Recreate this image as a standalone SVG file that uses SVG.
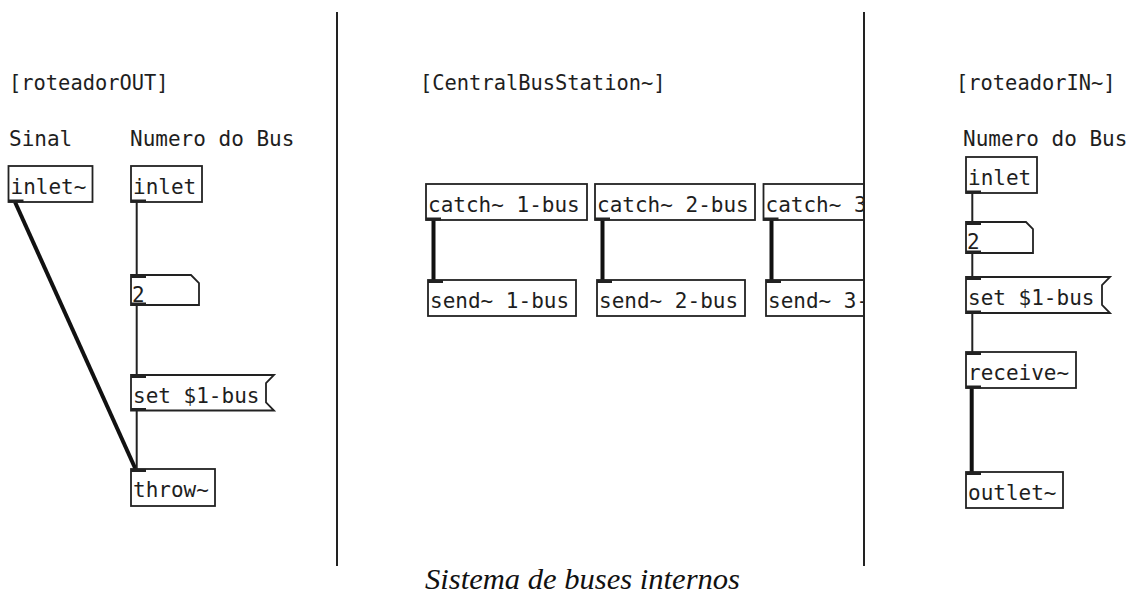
<svg xmlns="http://www.w3.org/2000/svg" width="1131" height="598" viewBox="0 0 1131 598">
  <style>
    .mono { font-family: "DejaVu Sans Mono", "Liberation Mono", monospace; font-size: 21px; fill: #1e1e1e; }
    .title { font-size: 20.4px; }
    .box { fill: #ffffff; stroke: #222222; stroke-width: 1.8; }
    .tab { fill: #222222; }
    .thin { stroke: #222222; stroke-width: 2; fill: none; }
    .sig { stroke: #111111; stroke-width: 4; fill: none; }
    .divider { stroke: #222222; stroke-width: 2; }
    .caption { font-family: "Liberation Serif", "DejaVu Serif", serif; font-style: italic; font-size: 29px; fill: #111111; }
  </style>
  <defs>
    <clipPath id="centralClip">
      <rect x="340" y="0" width="523" height="598"/>
    </clipPath>
  </defs>

  <rect x="0" y="0" width="1131" height="598" fill="#ffffff"/>

  <!-- panel dividers -->
  <g id="dividers">
    <line class="divider" x1="337" y1="12" x2="337" y2="566"/>
    <line class="divider" x1="864" y1="12" x2="864" y2="566"/>
  </g>

  <!-- patch titles and comments -->
  <g id="labels">
    <text class="mono title" x="9" y="90">[roteadorOUT]</text>
    <text class="mono" x="9" y="146">Sinal</text>
    <text class="mono" x="130" y="146">Numero do Bus</text>
    <text class="mono title" x="420" y="90">[CentralBusStation~]</text>
    <text class="mono title" x="956" y="90">[roteadorIN~]</text>
    <text class="mono" x="963" y="146">Numero do Bus</text>
  </g>

  <!-- connections -->
  <g id="connectors">
    <!-- roteadorOUT -->
    <line class="sig" x1="15" y1="202" x2="135.5" y2="469"/>
    <line class="thin" x1="136.7" y1="202" x2="136.7" y2="275"/>
    <line class="thin" x1="136.7" y1="305" x2="136.7" y2="375"/>
    <line class="thin" x1="136.7" y1="410.5" x2="136.7" y2="469"/>
    <!-- CentralBusStation~ -->
    <line class="sig" x1="433.5" y1="220" x2="433.5" y2="280"/>
    <line class="sig" x1="602.5" y1="220" x2="602.5" y2="280"/>
    <line class="sig" x1="771.5" y1="220" x2="771.5" y2="280"/>
    <!-- roteadorIN~ -->
    <line class="thin" x1="972.3" y1="193" x2="972.3" y2="222"/>
    <line class="thin" x1="972.3" y1="253" x2="972.3" y2="277"/>
    <line class="thin" x1="972.3" y1="313" x2="972.3" y2="352"/>
    <line class="sig" x1="971.7" y1="388" x2="971.7" y2="472"/>
  </g>

  <!-- roteadorOUT objects -->
  <g id="out-inlet-sig">
    <rect class="box" x="8.5" y="166" width="84" height="36"/>
    <rect class="tab" x="8.5" y="199.5" width="15" height="3"/>
    <text class="mono" x="10.5" y="194">inlet~</text>
  </g>
  <g id="out-inlet">
    <rect class="box" x="131" y="166" width="71" height="36"/>
    <rect class="tab" x="131" y="199.5" width="15" height="3"/>
    <text class="mono" x="133" y="194">inlet</text>
  </g>
  <g id="out-number">
    <path class="box" d="M131,275 H191 L199,283 V305 H131 Z"/>
    <rect class="tab" x="131" y="275" width="15" height="3"/>
    <rect class="tab" x="131" y="302.5" width="15" height="3"/>
    <text class="mono" x="132" y="301.5">2</text>
  </g>
  <g id="out-msg">
    <path class="box" d="M131,375 H274 L266,383 V402.5 L274,410.5 H131 Z"/>
    <rect class="tab" x="131" y="375" width="15" height="3"/>
    <rect class="tab" x="131" y="408" width="15" height="3"/>
    <text class="mono" x="133" y="403">set $1-bus</text>
  </g>
  <g id="out-throw">
    <rect class="box" x="131" y="469" width="84" height="37"/>
    <rect class="tab" x="131" y="469" width="15" height="3"/>
    <text class="mono" x="133" y="497">throw~</text>
  </g>

  <!-- CentralBusStation~ objects -->
  <g id="catch-1">
    <rect class="box" x="426" y="184" width="161" height="36"/>
    <rect class="tab" x="426" y="217.5" width="15" height="3"/>
    <text class="mono" x="428" y="212">catch~ 1-bus</text>
  </g>
  <g id="catch-2">
    <rect class="box" x="595" y="184" width="160" height="36"/>
    <rect class="tab" x="595" y="217.5" width="15" height="3"/>
    <text class="mono" x="597" y="212">catch~ 2-bus</text>
  </g>
  <g id="catch-3" clip-path="url(#centralClip)">
    <rect class="box" x="763.5" y="184" width="160" height="36"/>
    <rect class="tab" x="763.5" y="217.5" width="15" height="3"/>
    <text class="mono" x="765.5" y="212">catch~ 3</text>
  </g>
  <g id="send-1">
    <rect class="box" x="428" y="280" width="148" height="36"/>
    <rect class="tab" x="428" y="280" width="15" height="3"/>
    <text class="mono" x="430" y="308">send~ 1-bus</text>
  </g>
  <g id="send-2">
    <rect class="box" x="597" y="280" width="148" height="36"/>
    <rect class="tab" x="597" y="280" width="15" height="3"/>
    <text class="mono" x="599" y="308">send~ 2-bus</text>
  </g>
  <g id="send-3" clip-path="url(#centralClip)">
    <rect class="box" x="766" y="280" width="148" height="36"/>
    <rect class="tab" x="766" y="280" width="15" height="3"/>
    <text class="mono" x="768" y="308">send~ 3-</text>
  </g>

  <!-- roteadorIN~ objects -->
  <g id="in-inlet">
    <rect class="box" x="966" y="157" width="71" height="36"/>
    <rect class="tab" x="966" y="190.5" width="15" height="3"/>
    <text class="mono" x="968" y="185">inlet</text>
  </g>
  <g id="in-number">
    <path class="box" d="M966,222 H1026 L1033,229 V253 H966 Z"/>
    <rect class="tab" x="966" y="222" width="15" height="3"/>
    <rect class="tab" x="966" y="250.5" width="15" height="3"/>
    <text class="mono" x="967" y="249">2</text>
  </g>
  <g id="in-msg">
    <path class="box" d="M966,277 H1110 L1102,285 V305 L1110,313 H966 Z"/>
    <rect class="tab" x="966" y="277" width="15" height="3"/>
    <rect class="tab" x="966" y="310.5" width="15" height="3"/>
    <text class="mono" x="968" y="305">set $1-bus</text>
  </g>
  <g id="in-receive">
    <rect class="box" x="966" y="352" width="110" height="36"/>
    <rect class="tab" x="966" y="352" width="15" height="3"/>
    <rect class="tab" x="966" y="385.5" width="15" height="3"/>
    <text class="mono" x="968" y="380">receive~</text>
  </g>
  <g id="in-outlet">
    <rect class="box" x="966" y="472" width="97" height="36"/>
    <rect class="tab" x="966" y="472" width="15" height="3"/>
    <text class="mono" x="968" y="500">outlet~</text>
  </g>

  <!-- caption -->
  <text class="caption" x="582.5" y="589" text-anchor="middle" textLength="315" lengthAdjust="spacingAndGlyphs">Sistema de buses internos</text>
</svg>
